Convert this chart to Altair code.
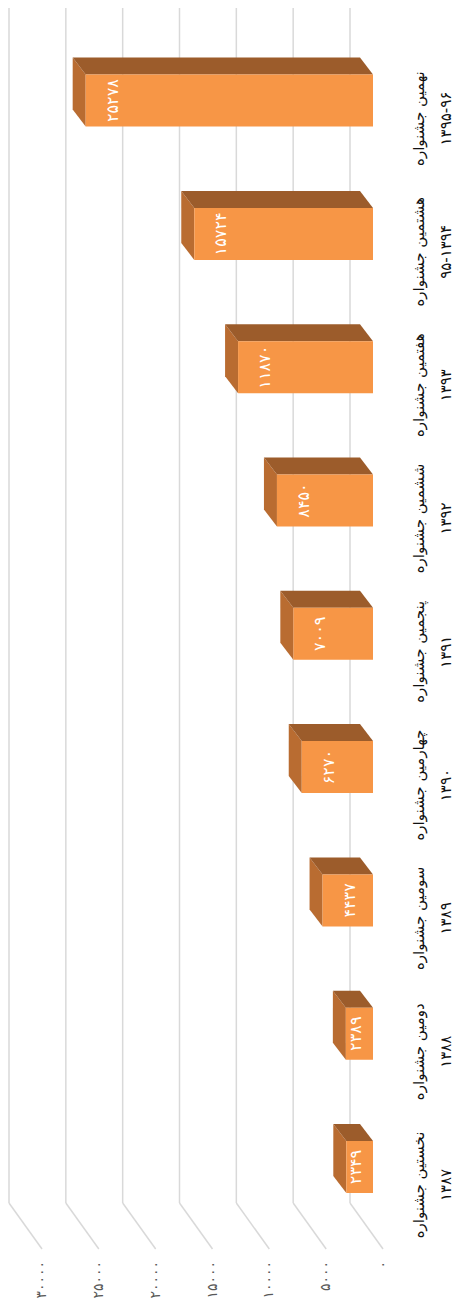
import altair as alt
import pandas as pd

# ---------------- data ----------------
FESTIVALS = ["نخستین جشنواره", "دومین جشنواره", "سومین جشنواره", "چهارمین جشنواره",
             "پنجمین جشنواره", "ششمین جشنواره", "هفتمین جشنواره", "هشتمین جشنواره",
             "نهمین جشنواره"]
YEARS = ["۱۳۸۷", "۱۳۸۸", "۱۳۸۹", "۱۳۹۰", "۱۳۹۱", "۱۳۹۲", "۱۳۹۳", "۹۵-۱۳۹۴", "۱۳۹۵-۹۶"]
VALUES = [2349, 2389, 4437, 6270, 7009, 8450, 11870, 15724, 25278]
TICKS = [0, 5000, 10000, 15000, 20000, 25000, 30000]

FA = str.maketrans("0123456789", "۰۱۲۳۴۵۶۷۸۹")

# ---------------- layout / style ----------------
W, H = 341, 1241
TOTAL_W, TOTAL_H = 447, 1293
PAD_L = 24
XMAX = 30000
STEP = 133.3          # px between categories
Y0 = 1159             # px centre of first category
HALF = 26             # half height of front face
DEPTH_X, DEPTH_Y = 13, 17
GRID_SHIFT, FLOOR_SHIFT, FLOOR_H = -23, 10, 46
LABEL_GAP = 12
# category label columns (relative to the plot area)
CAT_X1, CAT_X2, CAT_DY = 387, 414, 18
FRONT, TOP, SIDE = "#F79646", "#9C5C2B", "#B96C31"
GRID = "#D9D9D9"
FONT = "DejaVu Sans"

k = W / XMAX
DXU = DEPTH_X / k
y_max = Y0 / STEP
y_min = -(H - Y0) / STEP

df = pd.DataFrame({"festival": FESTIVALS, "year": YEARS, "value": VALUES})
df["idx"] = list(range(len(df)))
df["label"] = [str(v).translate(FA) for v in VALUES]

# faces of the 3D boxes (derived from values)
top_rows, side_rows = [], []
for i, v in enumerate(VALUES):
    top_rows.append({"idx": i, "yu": i + HALF / STEP, "xa": v, "xb": 0})
    top_rows.append({"idx": i, "yu": i + (HALF + DEPTH_Y) / STEP, "xa": v + DXU, "xb": DXU})
    side_rows.append({"idx": i, "xs": v, "ya": i + HALF / STEP, "yb": i - HALF / STEP})
    side_rows.append({"idx": i, "xs": v + DXU, "ya": i + (HALF + DEPTH_Y) / STEP,
                      "yb": i + (DEPTH_Y - HALF) / STEP})
top_df = pd.DataFrame(top_rows)
side_df = pd.DataFrame(side_rows)

ticks_df = pd.DataFrame({"tick": TICKS, "tlabel": [str(t).translate(FA) for t in TICKS]})

xs = alt.Scale(domain=[0, XMAX], reverse=True, nice=False, zero=True)
ys = alt.Scale(domain=[y_min, y_max], nice=False, zero=False)

grid_v = alt.Chart(ticks_df).mark_rule(color=GRID, strokeWidth=1.5, xOffset=GRID_SHIFT).encode(
    x=alt.X("tick:Q", scale=xs, axis=None),
    y=alt.value(0), y2=alt.value(H - FLOOR_H))
grid_s = alt.Chart(ticks_df).mark_rule(color=GRID, strokeWidth=1.5, xOffset=GRID_SHIFT,
                                       x2Offset=FLOOR_SHIFT).encode(
    x=alt.X("tick:Q", scale=xs, axis=None), x2="tick:Q",
    y=alt.value(H - FLOOR_H), y2=alt.value(H))

side = alt.Chart(side_df).mark_area(orient="vertical", color=SIDE).encode(
    x=alt.X("xs:Q", scale=xs, axis=None),
    y=alt.Y("ya:Q", scale=ys, axis=None), y2="yb:Q",
    detail="idx:N")
top = alt.Chart(top_df).mark_area(orient="horizontal", color=TOP).encode(
    y=alt.Y("yu:Q", scale=ys, axis=None),
    x=alt.X("xa:Q", scale=xs, axis=None), x2="xb:Q",
    detail="idx:N")
front = alt.Chart(df).mark_rect(color=FRONT, yOffset=-HALF, y2Offset=HALF).encode(
    x=alt.X("value:Q", scale=xs, axis=None), x2=alt.datum(0),
    y=alt.Y("idx:Q", scale=ys, axis=None), y2="idx:Q")

vlabels = alt.Chart(df).transform_calculate(
    lx=f"datum.value - min(27, datum.value * {k} - 17.5) / {k}"
).mark_text(angle=270, align="center", baseline="middle", color="white",
            fontSize=16, font=FONT).encode(
    x=alt.X("lx:Q", scale=xs, axis=None),
    y=alt.Y("idx:Q", scale=ys, axis=None),
    text="label:N")

cat1 = alt.Chart(df).mark_text(angle=270, align="center", baseline="middle",
                               fontSize=15, font=FONT, color="#111111",
                               yOffset=CAT_DY).encode(
    x=alt.value(CAT_X1),
    y=alt.Y("idx:Q", scale=ys, axis=None),
    text="festival:N")
cat2 = alt.Chart(df).mark_text(angle=270, align="center", baseline="middle",
                               fontSize=15, font=FONT, color="#111111",
                               yOffset=CAT_DY).encode(
    x=alt.value(CAT_X2),
    y=alt.Y("idx:Q", scale=ys, axis=None),
    text="year:N")

tlabels = alt.Chart(ticks_df).mark_text(angle=270, align="right", baseline="middle",
                                        fontSize=14, font=FONT, color="#595959",
                                        xOffset=FLOOR_SHIFT).encode(
    x=alt.X("tick:Q", scale=xs, axis=None),
    y=alt.value(H + LABEL_GAP),
    text="tlabel:N")

chart = alt.layer(grid_v, grid_s, side, top, front, vlabels, cat1, cat2, tlabels).properties(
    width=W, height=H,
    autosize=alt.AutoSizeParams(type="none"),
    padding={"left": PAD_L, "top": 0, "right": TOTAL_W - PAD_L - W, "bottom": TOTAL_H - H},
    background="white",
).configure_view(stroke=None)

chart.save("out.html", embed_options={"renderer": "svg", "actions": False})
